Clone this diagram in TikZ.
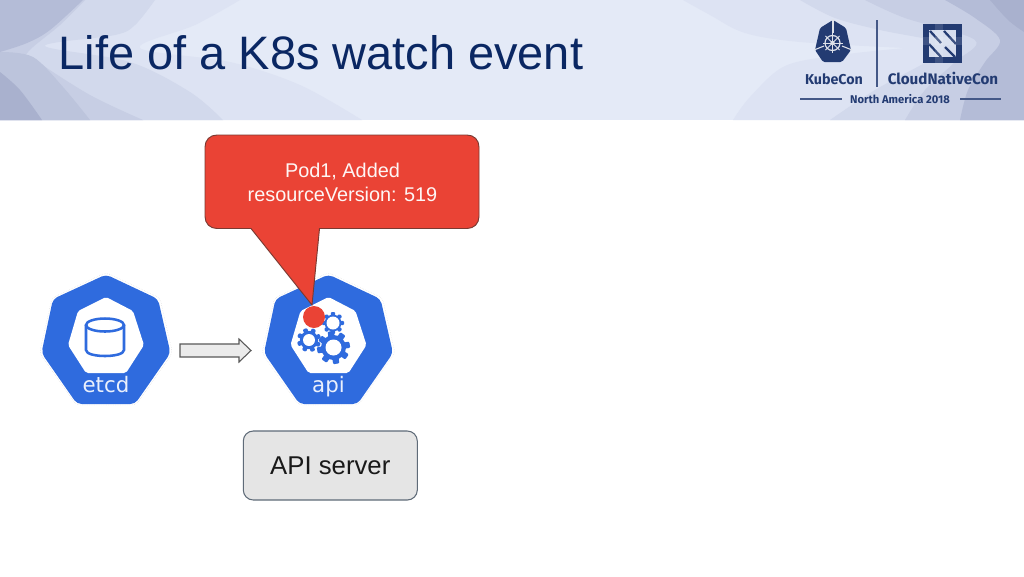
\documentclass[tikz,border=0pt]{standalone}
\usepackage{fontspec}
\setmainfont{Liberation Sans}
\newfontfamily\djv{DejaVu Sans}
\newfontfamily\fira{Fira Sans}
\definecolor{kblue}{HTML}{2F6BDE}
\definecolor{navy}{HTML}{0A2763}
\definecolor{lognavy}{HTML}{233B72}
\definecolor{redc}{HTML}{EA4335}
\definecolor{bandbase}{HTML}{E4EAF7}
\definecolor{waveA}{HTML}{DDE3F3}
\definecolor{waveB}{HTML}{D2D9EC}
\definecolor{waveC}{HTML}{C7CEE4}
\definecolor{waveC2}{HTML}{BCC4DC}
\definecolor{waveD}{HTML}{B4BCD7}
\definecolor{waveE}{HTML}{A9B1CE}
\definecolor{boxedge}{HTML}{5F6B78}
\definecolor{calloutedge}{HTML}{7A3A32}
\newcommand{\heptaicon}[3]{%
  \begin{scope}[shift={(#1,0)}]
    \draw[black!18,line width=.3pt,densely dotted,rounded corners=3] (106,272.5) -- (160,298) -- (172.5,353) -- (136,405) -- (76,405) -- (39.5,353) -- (52,298) -- cycle;
    \fill[kblue,rounded corners=3.5] (106,274.5) -- (158,299) -- (170.5,353) -- (135,404) -- (77,404) -- (41.5,353) -- (53,299) -- cycle;
    \fill[white,rounded corners=1.5] (106,297) -- (133,311) -- (144,345) -- (126,373) -- (86,373) -- (68,345) -- (78,311) -- cycle;
  \end{scope}
  \node[iconlabel] (#2) at (#1+106,392) {#3};
}
\newcommand{\gearicon}[5]{%
  \begin{scope}[shift={(#1,#2)}]
    \foreach \a in {0,45,...,135}
      \fill[kblue,rotate=\a+#5,rounded corners=.8] (-#3*.19,-#3) rectangle (#3*.19,#3);
    \fill[kblue] (0,0) circle[radius=#3*.76];
    \fill[white] (0,0) circle[radius=#4];
  \end{scope}
}
\tikzset{
  x=.75pt,y=-.75pt,
  iconlabel/.style={text=white!90!kblue,font=\djv\fontsize{16}{18}\selectfont,inner sep=0,anchor=base},
  logotext/.style={text=lognavy,inner sep=0,anchor=base},
  logoline/.style={draw=lognavy!85,line width=.9pt},
  blockarrow/.style={draw=black!65,fill=black!8,line width=.8pt,line join=miter},
  apibox/.style={draw=boxedge,fill=black!10,rounded corners=7.5pt,line width=.8pt,minimum width=130.5pt,minimum height=51.75pt,inner sep=0,font=\fontsize{19.3}{23}\selectfont,text=black!90},
  wave/.style={smooth,tension=.55},
}
\begin{document}
\begin{tikzpicture}
\useasboundingbox (0,0) rectangle (1024,576);
\fill[white] (0,0) rectangle (1024,576);
% header band
\begin{scope}
\clip (0,0) rectangle (1024,120);
\fill[bandbase] (0,0) rectangle (1024,120);
% left waves
\fill[waveA] (0,0) -- plot[wave] coordinates {(240,0) (195,25) (140,48) (230,62) (300,85) (362,120)} -- (0,120) -- cycle;
\fill[waveB] (0,0) -- plot[wave] coordinates {(155,0) (135,25) (115,35) (45,46) (130,62) (190,92) (223,120)} -- (0,120) -- cycle;
\fill[waveC] (0,0) -- plot[wave] coordinates {(85,0) (60,25) (28,52) (35,60) (90,95) (143,120)} -- (0,120) -- cycle;
\fill[waveC2] (0,52) -- plot[wave] coordinates {(0,52) (33,57) (63,87) (90,120)} -- (0,120) -- cycle;
\fill[waveD] (0,0) -- plot[wave] coordinates {(83,0) (50,30) (27,43) (0,52)} -- cycle;
\fill[waveE] (0,72) -- plot[wave] coordinates {(0,72) (20,90) (42,120)} -- (0,120) -- cycle;
% right waves
\fill[waveA] (1024,0) -- plot[wave] coordinates {(683,0) (710,15) (745,33) (800,42) (905,48)} -- (1024,60) -- cycle;
\fill[waveA] (1024,40) -- (905,48) -- plot[wave] coordinates {(905,48) (840,55) (785,66) (750,97) (733,120)} -- (1024,120) -- cycle;
\fill[waveB] (1024,0) -- plot[wave] coordinates {(800,0) (835,18) (880,30) (950,45) (930,60) (875,90) (830,120)} -- (1024,120) -- cycle;
\fill[waveC] (1024,0) -- plot[wave] coordinates {(865,0) (905,18) (975,40) (955,62) (925,90) (905,120)} -- (1024,120) -- cycle;
\fill[waveD] (1024,0) -- plot[wave] coordinates {(945,0) (975,18) (1000,40) (985,62) (968,90) (960,120)} -- (1024,120) -- cycle;
\fill[waveE] (1024,0) -- plot[wave] coordinates {(990,0) (1008,20) (1024,32)} -- cycle;
\end{scope}
% title
\node[anchor=base west,inner sep=0,text=navy,font=\fontsize{35.2}{42}\selectfont] (title) at (58.5,69.5) {Life of a K8s watch event};
% KubeCon logo
\fill[lognavy,rounded corners=1.2] (833,20) -- (846,28) -- (851,50) -- (842,62) -- (823,62) -- (815,50) -- (820,28) -- cycle;
\draw[white!85!lognavy,line width=.8pt] (833,19) -- (833,33);
\draw[white!85!lognavy,line width=.8pt] (814,50) -- (824,46);
\draw[white!85!lognavy,line width=.8pt] (852,50) -- (842,46);
\draw[white!85!lognavy,line width=.9pt] (832.5,43) circle[radius=7.5];
\fill[white!85!lognavy] (832.5,43) circle[radius=2.2];
\foreach \a in {0,45,...,315}
  \draw[white!85!lognavy,line width=.6pt,rotate around={\a:(832.5,43)}] (832.5,43) -- (832.5,33);
\draw[logoline,line width=.8pt] (877,20) -- (877,87);
% CNCF square
\fill[lognavy] (923,24) rectangle (962,63);
\fill[waveB!90!white] (929,30) rectangle (956,57);
\draw[lognavy,line width=1.7pt] (930,31) -- (941,43);
\draw[lognavy,line width=1.7pt] (944,31) -- (956,44);
\draw[lognavy,line width=1.7pt] (929,44) -- (941,57);
\draw[lognavy,line width=1.7pt] (945,47) -- (955,57);
\fill[white,opacity=.12] (923,37) rectangle (962,45);
\fill[white,opacity=.12] (935,24) rectangle (943,63);
% logo texts
\node[logotext,font=\fira\bfseries\fontsize{10.7}{14}\selectfont] (kc) at (834,84) {KubeCon};
\node[logotext,font=\fira\bfseries\fontsize{11.4}{14}\selectfont] (cnc) at (943,84) {CloudNativeCon};
\node[logotext,font=\fira\bfseries\fontsize{8.4}{10}\selectfont] (na) at (900,103) {North America 2018};
\draw[logoline] (800,99) -- (842,99);
\draw[logoline] (960,99) -- (1001,99);
% icons
\heptaicon{0}{etcd}{etcd}
\heptaicon{222.5}{api}{api}
% database glyph
\draw[kblue,line width=1.9pt] (86,325) -- (86,350) .. controls (86,358) and (124,358) .. (124,350) -- (124,325);
\draw[kblue,line width=1.9pt] (105,325) ellipse[x radius=19,y radius=6.5];
% gears
\gearicon{333.5}{347.5}{16.5}{8}{10}
\gearicon{309}{340}{12}{6}{20}
\gearicon{333}{323}{11}{6.5}{0}
% arrow
\draw[blockarrow] (180,344) -- (239,344) -- (239,339) -- (251,350.5) -- (239,362) -- (239,357) -- (180,357) -- cycle;
% api server box
\node[apibox] (apis) at (330.3,465.5) {API server};
% callout
\fill[redc,draw=calloutedge,line width=.7pt] (217,135) -- (467,135) .. controls (474,135) and (479,140) .. (479,147) -- (479,216.5) .. controls (479,223.5) and (474,228.5) .. (467,228.5) -- (319.5,228.5) -- (312,305) -- (251,228.5) -- (217,228.5) .. controls (210,228.5) and (205,223.5) .. (205,216.5) -- (205,147) .. controls (205,140) and (210,135) .. (217,135) -- cycle;
\node[inner sep=0,align=center,text=white!95!redc,font=\fontsize{14.9}{18}\selectfont] (msg) at (342.5,182) {Pod1, Added\\resourceVersion: 519};
\fill[redc] (314,317) circle[radius=11];
\end{tikzpicture}
\end{document}
